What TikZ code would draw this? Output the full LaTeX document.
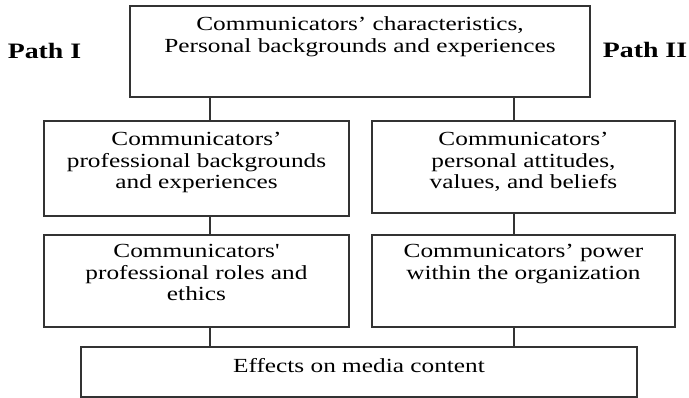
\documentclass[tikz,border=0pt]{standalone}
\usepackage{fontspec}
\usepackage{graphicx}
\newfontfamily\rawserif{Liberation Serif}
\newcommand\wtext[1]{\scalebox{1.265}[1]{\begin{tabular}{@{}c@{}}#1\end{tabular}}}
\begin{document}
\begin{tikzpicture}[x=1pt,y=-1pt,
  box/.style={draw=black!80, line width=1.2pt, inner sep=0pt},
  txt/.style={inner sep=0pt, anchor=north, font=\rawserif\fontsize{20}{21.5}\selectfont, text=black},
  pathlbl/.style={inner sep=0pt, anchor=base, font=\rawserif\bfseries\fontsize{22}{24}\selectfont, text=black},
  conn/.style={draw=black!80, line width=1.2pt}]
\useasboundingbox (0,0) rectangle (689,398);
% boxes
\node[box, minimum width=460pt, minimum height=91pt] (top) at (360,51.5) {};
\node[box, minimum width=305pt, minimum height=95pt] (ml) at (196.5,168.5) {};
\node[box, minimum width=303pt, minimum height=92pt] (mr) at (523.5,167) {};
\node[box, minimum width=305pt, minimum height=92pt] (bl) at (196.5,281) {};
\node[box, minimum width=303pt, minimum height=92pt] (br) at (523.5,281) {};
\node[box, minimum width=556pt, minimum height=50pt] (bot) at (359,372) {};
% texts
\node[txt] (ttop) at ([yshift=-10pt]top.north) {\wtext{Communicators’ characteristics,\\Personal backgrounds and experiences}};
\node[txt] (tml) at ([yshift=-10pt]ml.north) {\wtext{Communicators’\\professional backgrounds\\and experiences}};
\node[txt] (tmr) at ([yshift=-10pt]mr.north) {\wtext{Communicators’\\personal attitudes,\\values, and beliefs}};
\node[txt] (tbl) at ([yshift=-8pt]bl.north) {\wtext{Communicators'\\professional roles and\\ethics}};
\node[txt] (tbr) at ([yshift=-8pt]br.north) {\wtext{Communicators’ power\\within the organization}};
\node[txt] (tbot) at ([yshift=-11pt]bot.north) {\wtext{Effects on media content}};
% path labels
\node[pathlbl] (p1) at (44.5,59) {\scalebox{1.265}[1]{Path I}};
\node[pathlbl] (p2) at (645,58) {\scalebox{1.265}[1]{Path II}};
% connectors
\coordinate (xl) at (210,0);
\coordinate (xr) at (514,0);
\draw[conn] (top.south -| xl) -- (ml.north -| xl);
\draw[conn] (top.south -| xr) -- (mr.north -| xr);
\draw[conn] (ml.south -| xl) -- (bl.north -| xl);
\draw[conn] (mr.south -| xr) -- (br.north -| xr);
\draw[conn] (bl.south -| xl) -- (bot.north -| xl);
\draw[conn] (br.south -| xr) -- (bot.north -| xr);
\end{tikzpicture}
\end{document}
